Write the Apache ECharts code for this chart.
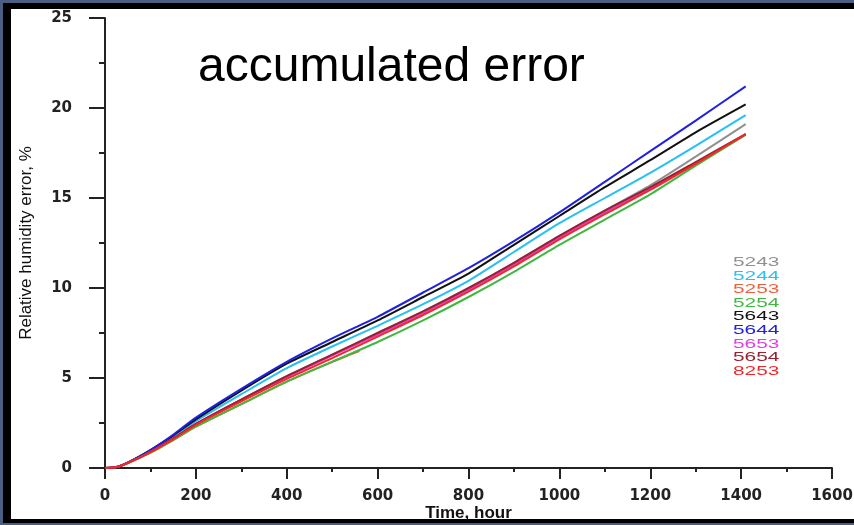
<!DOCTYPE html>
<html>
<head>
<meta charset="utf-8">
<script src="https://cdn.jsdelivr.net/npm/echarts@6/dist/echarts.min.js"></script>
<style>html,body{margin:0;padding:0;background:#4b5e82;}#c{width:854px;height:525px;}</style>
</head>
<body>
<div id="c"></div>
<script>
// ---- data ----
const hours = [0, 25, 50, 100, 150, 200, 300, 400, 500, 600, 700, 800, 900, 1000, 1100, 1200, 1300, 1410];
const hours5253 = [0, 25, 50, 100, 150, 200, 300, 400, 500, 560];
const s5243 = [0, 0.05, 0.28, 0.9, 1.65, 2.45, 3.8, 5.1, 6.3, 7.5, 8.7, 9.95, 11.4, 12.9, 14.3, 15.7, 17.3, 19.1];
const s5244 = [0, 0.05, 0.3, 0.95, 1.75, 2.6, 4.1, 5.55, 6.75, 7.9, 9.1, 10.4, 12.0, 13.6, 15.0, 16.4, 17.9, 19.6];
const s5253 = [0, 0.05, 0.27, 0.85, 1.55, 2.3, 3.55, 4.8, 5.9, 6.5];
const s5254 = [0, 0.05, 0.27, 0.85, 1.55, 2.3, 3.55, 4.8, 5.9, 7.0, 8.2, 9.5, 10.9, 12.4, 13.8, 15.2, 16.8, 18.5];
const s5643 = [0, 0.05, 0.3, 1.0, 1.8, 2.7, 4.3, 5.8, 7.0, 8.2, 9.5, 10.8, 12.4, 14.0, 15.6, 17.1, 18.65, 20.2];
const s5644 = [0, 0.05, 0.3, 1.0, 1.85, 2.8, 4.4, 5.9, 7.2, 8.4, 9.75, 11.1, 12.6, 14.2, 15.9, 17.6, 19.3, 21.2];
const s5653 = [0, 0.05, 0.28, 0.9, 1.65, 2.45, 3.8, 5.05, 6.25, 7.4, 8.6, 9.9, 11.3, 12.8, 14.2, 15.5, 16.95, 18.55];
const s5654 = [0, 0.05, 0.28, 0.9, 1.65, 2.45, 3.8, 5.1, 6.3, 7.5, 8.7, 10.0, 11.4, 12.9, 14.3, 15.6, 17.0, 18.55];
const s8253 = [0, 0.05, 0.28, 0.88, 1.6, 2.4, 3.7, 4.95, 6.1, 7.3, 8.5, 9.8, 11.2, 12.7, 14.1, 15.45, 16.9, 18.55];
const seriesNames = ['5243', '5244', '5253', '5254', '5643', '5644', '5653', '5654', '8253'];
const seriesColors = ['#909090', '#28c0f0', '#f06040', '#40b840', '#111111', '#2020e0', '#e040e0', '#9a2030', '#f02828'];
const xTicks = [0, 1600, 200];
const yTicks = [0, 25, 5];
const titleText = 'accumulated error';
const xName = 'Time, hour';
const yName = 'Relative humidity error, %';

// ---- build ----
const valueSets = {
  '5243': [hours, s5243], '5244': [hours, s5244], '5253': [hours5253, s5253],
  '5254': [hours, s5254], '5643': [hours, s5643], '5644': [hours, s5644],
  '5653': [hours, s5653], '5654': [hours, s5654], '8253': [hours, s8253]
};
const drawOrder = ['5243', '5244', '5254', '5253', '5643', '5644', '8253', '5654', '5653'];
const series = drawOrder.map(function (n) {
  const xs = valueSets[n][0], ys = valueSets[n][1];
  const idx = seriesNames.indexOf(n);
  return {
    name: n, type: 'line', showSymbol: false, symbol: 'none', smooth: 0.2,
    lineStyle: { width: 2, color: seriesColors[idx] },
    itemStyle: { color: seriesColors[idx] },
    data: ys.map(function (v, i) { return [xs[i], v]; }),
    z: 2 + idx
  };
});

// legend drawn as stretched text labels (the reference uses wide glyphs)
const legendTexts = seriesNames.map(function (n, i) {
  return {
    type: 'text', x: 733, y: 256 + i * 13.6, scaleX: 1.6, originX: 0, originY: 0,
    style: { text: n, fill: seriesColors[i], font: '13px "Liberation Sans", Arial, sans-serif', textVerticalAlign: 'top' },
    z: 10, silent: true
  };
});

const chart = echarts.init(document.getElementById('c'), null, { renderer: 'canvas' });
const axisColor = '#222';
chart.setOption({
  backgroundColor: '#4b5e82',
  animation: false,
  graphic: [
    { type: 'rect', shape: { x: 3, y: 3, width: 851, height: 520 }, style: { fill: '#000' }, z: -10, silent: true },
    { type: 'rect', shape: { x: 11, y: 9, width: 843, height: 510 }, style: { fill: '#fff' }, z: -9, silent: true },
    { type: 'text', x: 198, y: 44, style: { text: titleText, font: '48px "Liberation Sans", Arial, sans-serif', fill: '#000', textVerticalAlign: 'top' }, z: 10 }
  ].concat(legendTexts),
  grid: { left: 105, right: 22, top: 18, bottom: 57, containLabel: false, outerBoundsMode: 'none' },
  xAxis: {
    type: 'value', min: xTicks[0], max: xTicks[1], interval: xTicks[2],
    name: xName, nameLocation: 'middle', nameGap: 37, nameMoveOverlap: false,
    nameTextStyle: { fontSize: 17, color: '#111', fontFamily: '"Liberation Sans", Arial, sans-serif', fontWeight: 'bold' },
    axisLine: { show: true, onZero: false, lineStyle: { color: axisColor, width: 2 } },
    axisTick: { show: true, length: 11, lineStyle: { color: axisColor, width: 2 } },
    minorTick: { show: true, splitNumber: 2, length: 4, lineStyle: { color: axisColor, width: 2 } },
    axisLabel: { margin: 21, fontSize: 15, fontWeight: 'bold', color: '#222', fontFamily: '"DejaVu Sans", sans-serif',
      formatter: function (v) { return String(v); } },
    splitLine: { show: false }, minorSplitLine: { show: false }
  },
  yAxis: {
    type: 'value', min: yTicks[0], max: yTicks[1], interval: yTicks[2],
    name: yName, nameLocation: 'middle', nameGap: 70, nameRotate: 90, nameMoveOverlap: false,
    nameTextStyle: { fontSize: 17, color: '#111', fontFamily: '"Liberation Sans", Arial, sans-serif' },
    axisLine: { show: true, onZero: false, lineStyle: { color: axisColor, width: 2 } },
    axisTick: { show: true, length: 16, lineStyle: { color: axisColor, width: 2 } },
    minorTick: { show: true, splitNumber: 2, length: 6, lineStyle: { color: axisColor, width: 2 } },
    axisLabel: { margin: 33, fontSize: 15, fontWeight: 'bold', color: '#222', fontFamily: '"DejaVu Sans", sans-serif',
      formatter: function (v) { return String(v); } },
    splitLine: { show: false }, minorSplitLine: { show: false }
  },
  series: series
});
</script>
</body>
</html>
